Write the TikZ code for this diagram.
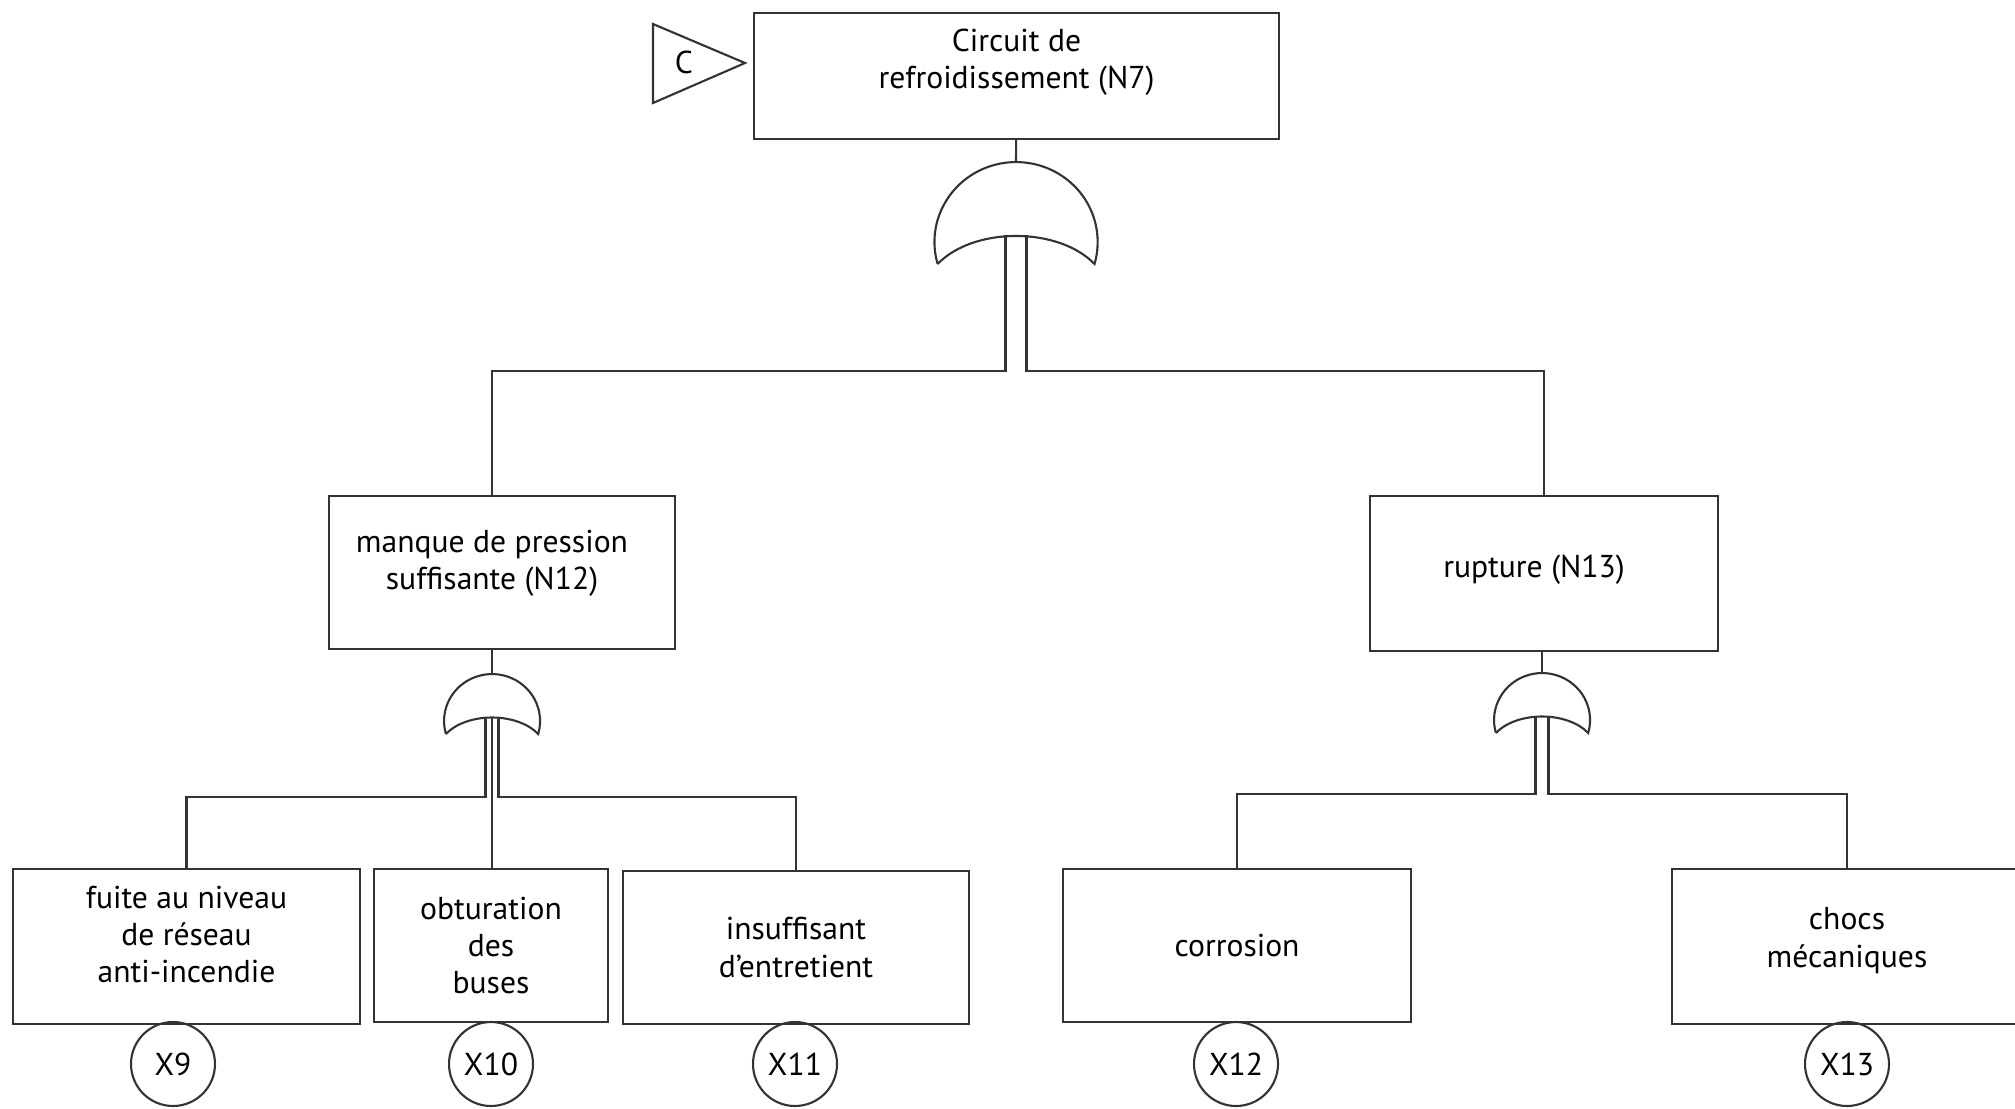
\documentclass[tikz,border=0pt]{standalone}
\usepackage{fontspec}
\setmainfont{PT Sans}
\usetikzlibrary{positioning}
\tikzset{evt/.style = {draw, rectangle, align=center, inner sep=2pt}}
\tikzset{basic/.style = {draw, circle, inner sep=0, minimum size=0.84cm}}
\tikzset{orgate/.pic = {
    \draw (-0.461,-0.60) arc[start angle=196, end angle=-16, x radius=0.48, y radius=0.47]
      .. controls (0.25,-0.38) and (-0.25,-0.38) .. (-0.461,-0.60);
    \coordinate (-top) at (0,0);
    \coordinate (-out) at (0,-0.43);
}}

\begin{document}
\begin{tikzpicture}[line width=0.6pt, draw=black!80, font=\fontsize{9pt}{10.6pt}\selectfont]
    \useasboundingbox (0,0) rectangle (20.15,-11.08);

    \node [evt, minimum width=5.25cm, minimum height=1.26cm,
      label={[align=center, yshift=1.4mm]center:Circuit de\\refroidissement (N7)}] (n7) at (10.165,-0.76) {};
    \draw (6.53,-0.24) -- (7.45,-0.63) -- (6.53,-1.03) -- cycle;
    \node (cref) at (6.84,-0.62) {C};

    \pic [scale=1.7] (g7) at (10.16,-1.62) {orgate};
    \draw (n7) -- (g7-top);

    \node [evt, minimum width=3.46cm, minimum height=1.53cm,
      label={[align=center, yshift=0.9mm, xshift=-0.1cm]center:manque de pression\\suffisante (N12)}] (n12) at (5.02,-5.725) {};
    \node [evt, minimum width=3.48cm, minimum height=1.55cm,
      label={[yshift=0.4mm, xshift=-0.1cm]center:rupture (N13)}] (n13) at (15.44,-5.735) {};

    \draw ([xshift=-0.105cm]g7-out) -- ++(0,-1.36) -| ([xshift=-0.1cm]n12.north);
    \draw ([xshift=0.105cm]g7-out) -- ++(0,-1.36) -| (n13.north);

    \pic (g12) at (4.92,-6.74) {orgate};
    \pic (g13) at (15.42,-6.73) {orgate};
    \draw (n12.south -| g12-top) -- (g12-top);
    \draw (n13.south -| g13-top) -- (g13-top);

    \node [evt, minimum width=3.47cm, minimum height=1.55cm,
      label={[align=center, yshift=1.2mm]center:fuite au niveau\\de réseau\\anti-incendie}] (fuite) at (1.865,-9.465) {};
    \node [evt, minimum width=2.34cm, minimum height=1.53cm] (obtu) at (4.91,-9.455) {obturation\\des\\buses};
    \node [evt, minimum width=3.46cm, minimum height=1.53cm] (insuf) at (7.96,-9.475) {insuffisant\\d’entretient};
    \node [evt, minimum width=3.48cm, minimum height=1.53cm] (corro) at (12.37,-9.455) {corrosion};
    \node [evt, minimum width=3.50cm, minimum height=1.55cm,
      label={[align=center, yshift=0.6mm]center:chocs\\mécaniques}] (chocs) at (18.47,-9.465) {};

    \draw ([xshift=-0.065cm]g12-out) -- ++(0,-0.8) -| (fuite.north);
    \draw (g12-out) -- (g12-out |- obtu.north);
    \draw ([xshift=0.065cm]g12-out) -- ++(0,-0.8) -| (insuf.north);
    \draw ([xshift=-0.065cm]g13-out) -- ++(0,-0.78) -| (corro.north);
    \draw ([xshift=0.065cm]g13-out) -- ++(0,-0.78) -| (chocs.north);

    \node [basic] (x9) at (1.73,-10.64) {X9};
    \node [basic] (x10) at (4.91,-10.64) {X10};
    \node [basic] (x11) at (7.95,-10.64) {X11};
    \node [basic] (x12) at (12.36,-10.64) {X12};
    \node [basic] (x13) at (18.47,-10.64) {X13};
\end{tikzpicture}
\end{document}
